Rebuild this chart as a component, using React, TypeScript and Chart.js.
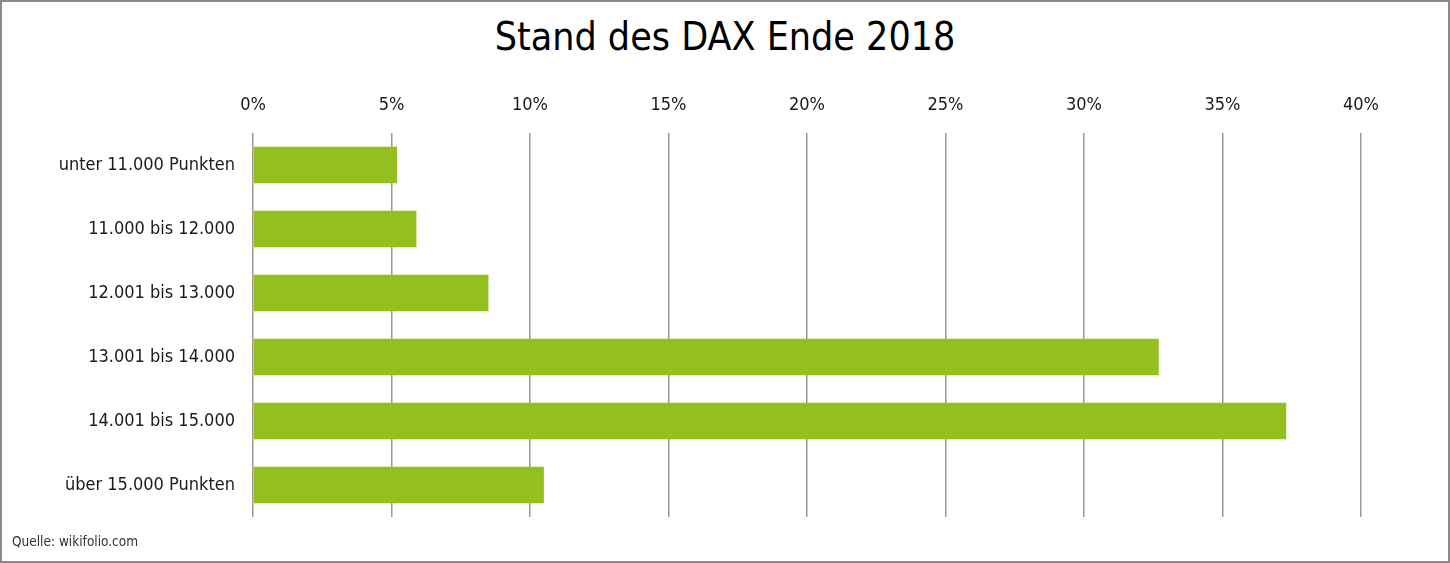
import React, { useEffect, useRef } from "react";
import { Chart, registerables } from "chart.js";

Chart.register(...registerables);

// Stand des DAX Ende 2018 – Prognosen (Anteil in %)
const categories: string[] = [
  "unter 11.000 Punkten",
  "11.000 bis 12.000",
  "12.001 bis 13.000",
  "13.001 bis 14.000",
  "14.001 bis 15.000",
  "über 15.000 Punkten",
];
const shares: number[] = [5.2, 5.9, 8.5, 32.7, 37.3, 10.5];
const tickValues: number[] = [0, 5, 10, 15, 20, 25, 30, 35, 40];

const FONT = "'Liberation Sans Narrow', 'DejaVu Sans Condensed', 'Arial Narrow', sans-serif";

const App: React.FC = () => {
  const chartRef = useRef<HTMLCanvasElement>(null);
  const chartInstance = useRef<Chart<"bar"> | null>(null);

  useEffect(() => {
    document.body.style.margin = "0";
    if (chartRef.current) {
      const ctx = chartRef.current.getContext("2d");
      if (ctx) {
        chartInstance.current = new Chart(ctx, {
          type: "bar",
          data: {
            labels: categories,
            datasets: [
              {
                label: "Anteil",
                data: shares,
                backgroundColor: "#93c01f",
                borderWidth: 0,
                categoryPercentage: 0.57,
                barPercentage: 1,
              },
            ],
          },
          options: {
            indexAxis: "y",
            animation: false,
            responsive: true,
            maintainAspectRatio: false,
            layout: { padding: { left: 0, right: 87, top: 59, bottom: 44 } },
            scales: {
              x: {
                position: "top",
                min: 0,
                max: 40,
                afterBuildTicks: (scale) => {
                  scale.ticks = tickValues.map((v) => ({ value: v }));
                },
                afterFit: (scale) => {
                  scale.height = 72;
                },
                ticks: {
                  padding: 17,
                  color: "#1a1a1a",
                  font: { family: FONT, size: 18 },
                  callback: (v) => `${v}%`,
                },
                grid: {
                  color: "#9a9a9a",
                  lineWidth: 1.5,
                  drawTicks: false,
                },
                border: { display: false },
              },
              y: {
                afterFit: (scale) => {
                  scale.width = 251;
                },
                ticks: {
                  padding: 18,
                  color: "#1a1a1a",
                  font: { family: FONT, size: 18 },
                },
                grid: { display: false, drawTicks: false },
                border: { display: false },
              },
            },
            plugins: {
              legend: { display: false },
              tooltip: { enabled: false },
            },
          },
        });
      }
    }

    return () => {
      if (chartInstance.current) {
        chartInstance.current.destroy();
      }
    };
  }, []);

  return (
    <div
      style={{
        position: "relative",
        width: 1450,
        height: 563,
        boxSizing: "border-box",
        border: "2px solid #8a8a8a",
        background: "#fff",
        fontFamily: FONT,
      }}
    >
      <div
        style={{
          position: "absolute",
          left: 0,
          right: 0,
          top: 11,
          textAlign: "center",
          fontSize: 39,
          color: "#000",
          lineHeight: "48px",
        }}
      >
        Stand des DAX Ende 2018
      </div>
      <canvas ref={chartRef} style={{ position: "absolute", left: 0, top: 0, width: 1446, height: 559 }} />
      <div
        style={{
          position: "absolute",
          left: 10,
          top: 531,
          fontSize: 13.5,
          color: "#333",
          lineHeight: "17px",
        }}
      >
        Quelle: wikifolio.com
      </div>
    </div>
  );
};

export default App;
